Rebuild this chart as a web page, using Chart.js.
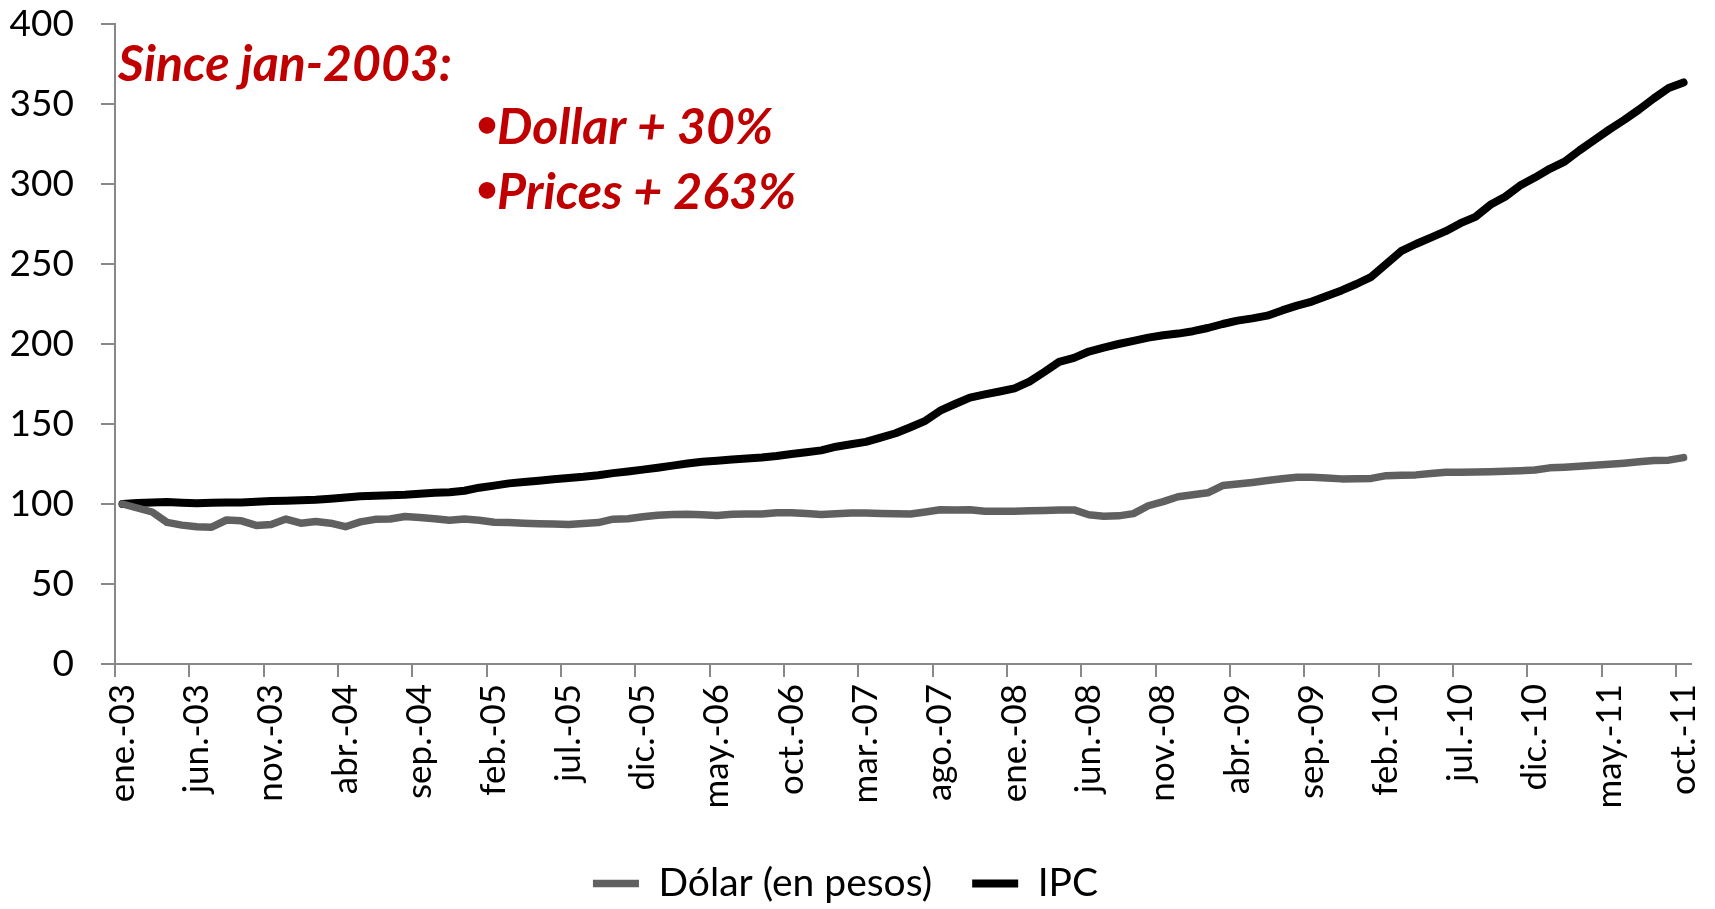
<!DOCTYPE html>
<html>
<head>
<meta charset="utf-8">
<script src="https://cdn.jsdelivr.net/npm/chart.js@4/dist/chart.umd.min.js"></script>
<style>
  html, body { margin: 0; padding: 0; background: #fff; overflow: hidden; }
</style>
</head>
<body>
<canvas id="grafico" width="1715" height="909"></canvas>
<script>
// meses ene.-03 ... oct.-11
const nombresMes = ['ene.', 'feb.', 'mar.', 'abr.', 'may.', 'jun.', 'jul.', 'ago.', 'sep.', 'oct.', 'nov.', 'dic.'];
const meses = [];
for (let i = 0; i < 106; i++) {
  const anio = String(3 + Math.floor(i / 12)).padStart(2, '0');
  meses.push(nombresMes[i % 12] + '-' + anio);
}

// Dólar (en pesos), base ene-03 = 100
const dolar = [
  100, 97.5, 95, 88.5, 86.8, 85.8, 85.5, 90, 89.5, 86.6,
  87.2, 90.6, 88, 89, 88, 85.8, 88.8, 90.4, 90.6, 92.2,
  91.5, 90.8, 89.8, 90.6, 89.8, 88.6, 88.5, 88, 87.7, 87.5,
  87.2, 87.8, 88.4, 90.5, 90.8, 92, 93, 93.4, 93.6, 93.3,
  92.8, 93.6, 93.7, 93.8, 94.6, 94.6, 94, 93.4, 93.9, 94.3,
  94.3, 94.1, 93.9, 93.8, 95, 96.4, 96.3, 96.4, 95.5, 95.4,
  95.5, 95.8, 96, 96.3, 96.3, 93.3, 92.4, 92.6, 94, 98.9,
  101.5, 104.5, 105.8, 107, 111.5, 112.5, 113.5, 114.7, 115.8, 116.7,
  116.7, 116.2, 115.7, 115.8, 116, 117.7, 117.9, 118.2, 119, 119.8,
  119.9, 120, 120.2, 120.4, 120.8, 121.2, 122.6, 123, 123.6, 124.2,
  124.8, 125.5, 126.4, 127.2, 127.4, 129
];

// IPC, base ene-03 = 100
const ipc = [
  100, 100.6, 101, 101.2, 100.8, 100.5, 100.8, 101, 101, 101.4,
  101.8, 102.1, 102.4, 102.7, 103.3, 104, 104.8, 105.2, 105.5, 105.8,
  106.4, 107, 107.3, 108.3, 110.2, 111.5, 112.9, 113.8, 114.6, 115.4,
  116.3, 117, 118, 119.3, 120.3, 121.5, 122.7, 124, 125.3, 126.4,
  127, 127.8, 128.4, 129, 130, 131.3, 132.3, 133.5, 135.8, 137.3,
  138.8, 141.5, 144.2, 148, 152, 158.3, 162.5, 166.5, 168.5, 170.3,
  172.3, 176.5, 182.5, 188.8, 191.3, 195.3, 197.8, 200, 202, 204,
  205.5, 206.5, 208, 210, 212.5, 214.6, 216, 217.7, 221, 224,
  226.5, 230, 233.5, 237.5, 242, 250, 258, 262.5, 266.5, 270.5,
  275.5, 279.5, 287, 292, 299, 304, 309.5, 314, 321, 327.5,
  334, 340, 346.5, 353.5, 360, 363.5
];

const textoTitulo = 'Since jan-2003:';
const textoPuntos = ['Dollar + 30%', 'Prices + 263%'];

Chart.defaults.font.family = 'Lato, sans-serif';
Chart.defaults.color = '#000';

// texto rojo dentro del gráfico
const notas = {
  id: 'notas',
  afterDraw(chart) {
    const c = chart.ctx;
    c.save();
    c.fillStyle = '#C00000';
    c.textBaseline = 'alphabetic';
    c.font = 'italic bold 50px Lato';
    c.fillText(textoTitulo, 118, 81);
    const bases = [144, 209];
    textoPuntos.forEach((t, i) => {
      c.font = 'bold 38px Lato';
      c.textAlign = 'center';
      c.fillText('•', 487, bases[i] - 7);
      c.font = 'italic bold 50px Lato';
      c.textAlign = 'left';
      c.fillText(t, 497, bases[i]);
    });
    c.restore();
  }
};

const ctx = document.getElementById('grafico').getContext('2d');
new Chart(ctx, {
  type: 'line',
  data: {
    labels: meses,
    datasets: [
      {
        label: 'Dólar (en pesos)',
        data: dolar,
        borderColor: '#606060',
        backgroundColor: '#606060',
        borderWidth: 7.5,
        pointRadius: 0,
        borderCapStyle: 'round',
        borderJoinStyle: 'round',
        tension: 0
      },
      {
        label: 'IPC',
        data: ipc,
        borderColor: '#000000',
        backgroundColor: '#000000',
        borderWidth: 8,
        pointRadius: 0,
        borderCapStyle: 'round',
        borderJoinStyle: 'round',
        tension: 0
      }
    ]
  },
  options: {
    responsive: false,
    animation: false,
    layout: { padding: { left: 0, right: 24, top: 24, bottom: -4 } },
    plugins: {
      legend: {
        position: 'bottom',
        labels: {
          usePointStyle: true,
          pointStyle: 'line',
          pointStyleWidth: 46,
          padding: 40,
          color: '#000',
          font: { size: 39 }
        }
      },
      tooltip: { enabled: false }
    },
    scales: {
      x: {
        offset: true,
        border: { color: '#888', width: 2 },
        grid: {
          offset: true,
          drawOnChartArea: false,
          tickLength: 13,
          lineWidth: 2,
          color: c => (c.index % 5 === 0 ? '#888' : 'rgba(0,0,0,0)')
        },
        ticks: {
          autoSkip: false,
          minRotation: 90,
          maxRotation: 90,
          padding: 7,
          color: '#000',
          font: { size: 35 },
          callback: function (v, i) {
            return i % 5 === 0 ? this.getLabelForValue(v) : '';
          }
        },
        afterFit: s => {
          s.height = 160;
          s.paddingLeft = 0;
          s.paddingRight = 0;
        }
      },
      y: {
        min: 0,
        max: 400,
        border: { color: '#888', width: 2 },
        grid: { drawOnChartArea: false, tickLength: 14, lineWidth: 2, color: '#888' },
        ticks: { stepSize: 50, padding: 27, color: '#000', font: { size: 37 } },
        afterFit: s => {
          s.width = 115;
          s.paddingTop = 0;
          s.paddingBottom = 0;
        }
      }
    }
  },
  plugins: [notas]
});
</script>
</body>
</html>
